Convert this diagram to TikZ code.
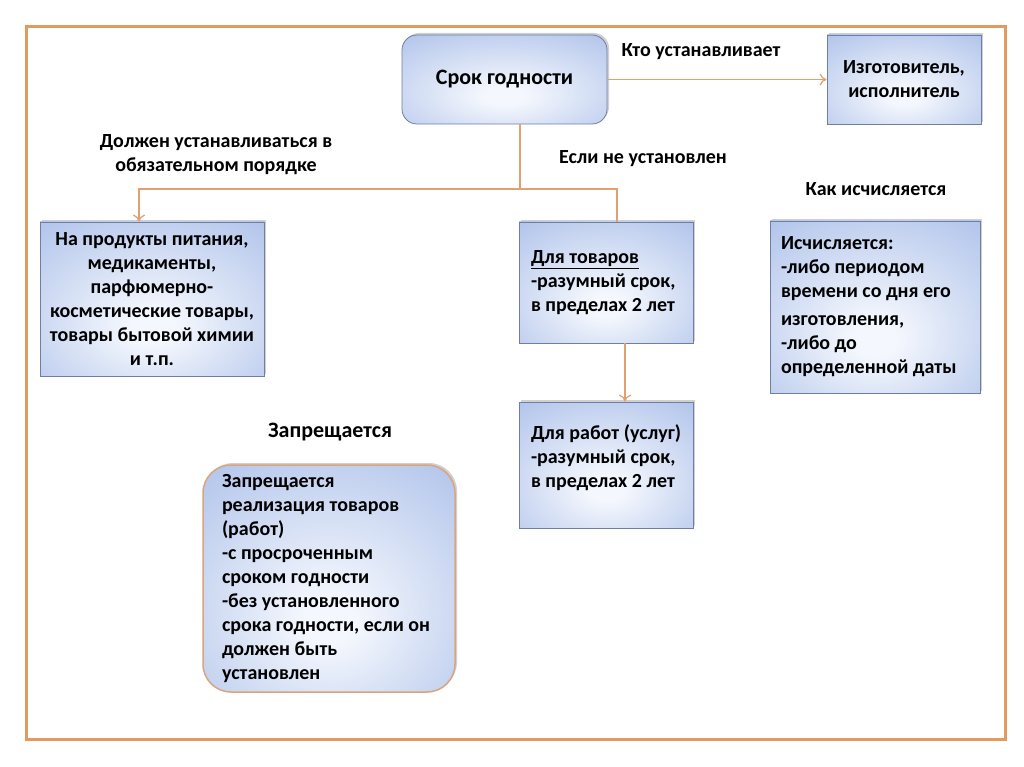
\documentclass[tikz,border=0pt]{standalone}
\usepackage{fontspec}
\setmainfont{Carlito}
\usetikzlibrary{arrows.meta,shadows}
\definecolor{frameor}{HTML}{E39A5E}
\definecolor{lineor}{HTML}{E0A070}
\definecolor{boxline}{HTML}{6E7FA3}
\definecolor{boxin}{HTML}{F4F7FD}
\definecolor{boxout}{HTML}{A0B7E6}
\definecolor{zapline}{HTML}{D9A57E}
\pgfdeclareradialshading{boxshade}{\pgfpoint{0bp}{-10bp}}{color(0bp)=(boxin); color(5bp)=(boxin); color(48bp)=(boxout); color(80bp)=(boxout)}
\tikzset{
  txt/.style={font=\bfseries\fontsize{20}{24}\selectfont, text=black},
  box/.style={txt, draw=boxline, line width=0.8pt, shade, shading=boxshade,
     drop shadow={shadow xshift=2pt, shadow yshift=2pt, opacity=0.3, fill=black!60},
     minimum width=#1},
  conn/.style={draw=lineor, line width=1.2pt},
  arr/.style={conn, -{To[length=7pt,width=12pt]}},
}
\begin{document}
\begin{tikzpicture}[x=1pt,y=-1pt]
\useasboundingbox (0,0) rectangle (1024,767);
\fill[white] (0,0) rectangle (1024,767);
\draw[frameor, line width=3pt] (26,27) rectangle (1005,739);

\node[box=205pt, minimum height=89pt, rounded corners=15pt, font=\bfseries\fontsize{22}{24}\selectfont] (srok) at (504.5,79.5) {\raisebox{-3pt}{Срок годности}};
\node[box=154pt, minimum height=89pt, align=center] (izg) at (904,79.5) {Изготовитель,\\исполнитель};
\node[box=224pt, minimum height=154pt, align=center, inner sep=2pt] (prod) at (152,299) {На продукты питания,\\медикаменты,\\парфюмерно-\\косметические товары,\\товары бытовой химии\\и т.п.};
\node[box=174pt, minimum height=121pt, text width=160pt, inner xsep=7pt, align=flush left] (tov) at (606,282.5) {\hspace*{5pt}\underline{Для товаров}\\\hspace*{5pt}-разумный срок,\\\hspace*{5pt}в пределах 2 лет};
\node[box=174pt, minimum height=126pt, text width=160pt, inner xsep=7pt, align=flush left] (rab) at (606,465) {\hspace*{5pt}Для работ (услуг)\\\hspace*{5pt}-разумный срок,\\\hspace*{5pt}в пределах 2 лет\\[-6pt]\mbox{}};
\node[box=210pt, minimum height=172pt, text width=188pt, inner xsep=11pt, align=flush left] (isch) at (875,307) {Исчисляется:\\-либо периодом\\времени со дня его\\[4pt]изготовления,\\-либо до\\определенной даты};
\node[box=252pt, minimum height=227pt, text width=214pt, inner xsep=19pt, align=flush left, draw=zapline, line width=1.5pt, rounded corners=28pt] (zap) at (329,578.5) {Запрещается\\реализация товаров\\(работ)\\-с просроченным\\сроком годности\\-без установленного\\срока годности, если он\\должен быть\\установлен};

\node[txt] (l1) at (701,52) {Кто устанавливает};
\node[txt, align=center] (l2) at (216,155) {Должен устанавливаться в\\обязательном порядке};
\node[txt] (l3) at (643,159) {Если не установлен};
\node[txt] (l4) at (876,189) {Как исчисляется};
\node[txt, font=\bfseries\fontsize{22}{24}\selectfont] (l5) at (330,432) {Запрещается};

\coordinate (jm) at (520,189);
\coordinate (jl) at (139,189);
\coordinate (jr) at (617,189);
\coordinate (ax) at (625,0);
\draw[arr] (srok.east) -- (izg.west);
\draw[conn] (srok.south -| jm) -- (jm);
\draw[arr] (jm) -- (jl) -- (jl |- prod.north);
\draw[conn] (jm) -- (jr) -- (jr |- tov.north);
\draw[arr] (tov.south -| ax) -- (rab.north -| ax);
\end{tikzpicture}
\end{document}
